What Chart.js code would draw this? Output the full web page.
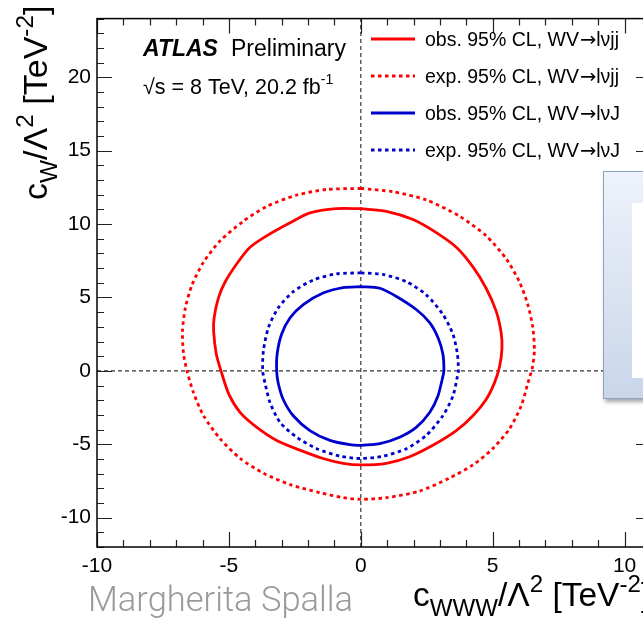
<!DOCTYPE html>
<html>
<head>
<meta charset="utf-8">
<script src="https://cdn.jsdelivr.net/npm/chart.js@4"></script>
<style>
  html, body { margin:0; padding:0; overflow:hidden; background:#fff; width:643px; height:623px; }
  #wrap { position:absolute; left:0; top:0; width:660px; height:623px; }
  #box { position:absolute; left:603px; top:171px; width:80px; height:226px;
         background:linear-gradient(#eef2fa, #c9d6ea); border:1.5px solid #8fa2c6;
         box-shadow:2px 3px 4px rgba(0,0,0,0.35); }
  #box-inner { position:absolute; left:28px; top:31px; width:60px; height:175px; background:#fff; }
</style>
</head>
<body>
<div id="wrap"><canvas id="chart"></canvas></div>
<div id="box"><div id="box-inner"></div></div>
<script>
// axis ranges and labelled ticks
const xRange = [-10, 11];
const yRange = [-12, 24];
const xTickVals = [-10, -5, 0, 5, 10];
const yTickVals = [-10, -5, 0, 5, 10, 15, 20];

// contours (c_WWW, c_W) in TeV^-2
const obsJjX = [0,-0.92,-1.93,-2.68,-3.57,-4.2,-4.7,-5.14,-5.4,-5.56,-5.58,-5.48,-5.3,-5.0,-4.57,-3.94,-3.19,-2.31,-1.43,-0.67,0,0.97,1.85,2.73,3.62,4.25,4.75,5.07,5.26,5.35,5.32,5.13,4.75,4.25,3.62,2.86,1.98,0.97,0];
const obsJjY = [11.05,11.05,10.76,10.09,9.2,8.42,7.3,6.07,4.96,3.62,2.73,1.17,0,-1.6,-2.84,-3.85,-4.74,-5.4,-5.97,-6.3,-6.41,-6.3,-5.85,-5.07,-4.07,-3.06,-1.95,-0.8,0.3,1.5,2.6,4.07,5.63,7.08,8.42,9.42,10.31,10.87,11.05];

const expJjX = [0,-1.3,-2.43,-3.57,-4.45,-5.33,-5.96,-6.4,-6.65,-6.76,-6.72,-6.59,-6.34,-5.96,-5.33,-4.57,-3.69,-2.68,-1.55,-0.67,0,0.97,2.23,3.36,4.25,5.0,5.63,6.08,6.33,6.5,6.58,6.52,6.33,6.01,5.51,4.75,3.74,2.48,1.22,0];
const expJjY = [12.43,12.36,11.98,11.2,10.2,8.86,7.41,5.85,4.29,2.73,1.17,0,-1.5,-3.06,-4.63,-5.97,-6.97,-7.75,-8.3,-8.64,-8.75,-8.64,-8.19,-7.3,-6.41,-5.3,-3.96,-2.39,-0.84,0.2,1.39,2.96,4.52,6.07,7.64,9.2,10.54,11.65,12.2,12.43];

const obsJX = [0,-0.67,-1.43,-2.18,-2.68,-3.0,-3.17,-3.19,-3.13,-2.94,-2.56,-1.93,-1.17,-0.42,0,0.72,1.47,2.1,2.61,2.92,3.11,3.15,3.11,2.92,2.61,2.1,1.35,0.72,0];
const obsJY = [5.74,5.67,5.3,4.52,3.62,2.51,1.17,0,-0.84,-1.95,-3.06,-4.07,-4.74,-5.03,-5.07,-4.96,-4.52,-3.85,-2.84,-1.73,-0.39,0,1.17,2.29,3.29,4.18,5.07,5.63,5.74];

const expJX = [0,-0.92,-1.8,-2.56,-3.13,-3.5,-3.69,-3.72,-3.63,-3.44,-3.06,-2.43,-1.67,-0.79,0,0.84,1.73,2.48,3.11,3.49,3.66,3.7,3.66,3.49,3.11,2.48,1.73,0.84,0];
const expJY = [6.68,6.61,6.19,5.4,4.29,2.96,1.39,0,-0.84,-2.17,-3.51,-4.52,-5.3,-5.81,-5.97,-5.81,-5.3,-4.4,-3.06,-1.73,-0.39,0,1.17,2.51,3.85,5.18,6.07,6.57,6.68];

const legendPre = ['obs. 95% CL, WV', 'exp. 95% CL, WV', 'obs. 95% CL, WV', 'exp. 95% CL, WV'];
const legendPost = ['l\u03bdjj', 'l\u03bdjj', 'l\u03bdJ', 'l\u03bdJ'];
const RED = '#ff0000', BLUE = '#0000cc';
const DOT = [3.5, 3.5];
const FONT = '"Liberation Sans", Arial, sans-serif';

const pts = (xs, ys) => xs.map((x, i) => ({ x, y: ys[i] }));
const contour = (label, xs, ys, color, dash) => ({
  label, data: pts(xs, ys), showLine: true, borderColor: color, borderWidth: 2.8,
  borderDash: dash, pointRadius: 0, tension: 0.25, fill: false
});
const zeroLine = data => ({ data, showLine: true, borderColor: '#333', borderWidth: 1.2, borderDash: [4, 3], pointRadius: 0 });

// inward ticks, frame, texts
const decor = {
  id: 'decor',
  afterDraw(c) {
    const g = c.ctx, a = c.chartArea, sx = c.scales.x, sy = c.scales.y;
    g.save();
    g.strokeStyle = '#222'; g.lineWidth = 1.2;
    for (let v = Math.ceil(xRange[0]); v <= xRange[1]; v++) {
      const p = Math.round(sx.getPixelForValue(v)) + 0.5, L = v % 5 === 0 ? 15 : 7;
      g.beginPath(); g.moveTo(p, a.bottom); g.lineTo(p, a.bottom - L); g.moveTo(p, a.top); g.lineTo(p, a.top + L); g.stroke();
    }
    for (let v = Math.ceil(yRange[0]); v <= yRange[1]; v++) {
      const p = Math.round(sy.getPixelForValue(v)) + 0.5, L = v % 5 === 0 ? 15 : 7;
      g.beginPath(); g.moveTo(a.left, p); g.lineTo(a.left + L, p); g.moveTo(a.right, p); g.lineTo(a.right - L, p); g.stroke();
    }
    g.strokeStyle = '#000'; g.lineWidth = 1.5;
    g.strokeRect(a.left, a.top, a.right - a.left, a.bottom - a.top);

    // ATLAS label
    g.fillStyle = '#000'; g.textBaseline = 'alphabetic'; g.textAlign = 'left';
    g.font = 'italic bold 23px ' + FONT; g.fillText('ATLAS', 143, 56);
    g.font = '23px ' + FONT; g.fillText('Preliminary', 231, 56);
    g.font = '21.5px ' + FONT;
    let x = 143; const t1 = '\u221As = 8 TeV, 20.2 fb';
    g.fillText(t1, x, 94); x += g.measureText(t1).width;
    g.font = '14px ' + FONT; g.fillText('-1', x, 84);

    // legend
    const ly = [39, 76, 113, 150];
    const lc = [RED, RED, BLUE, BLUE];
    ly.forEach((y, i) => {
      g.strokeStyle = lc[i]; g.lineWidth = 2.8; g.setLineDash(i % 2 ? DOT : []);
      g.beginPath(); g.moveTo(371, y); g.lineTo(415, y); g.stroke(); g.setLineDash([]);
      g.fillStyle = '#000'; g.font = '19.5px ' + FONT;
      let lx = 425; g.fillText(legendPre[i], lx, y + 7); lx += g.measureText(legendPre[i]).width + 1;
      g.font = '19.5px "DejaVu Sans", sans-serif'; g.fillText('\u2192', lx, y + 7); lx += g.measureText('\u2192').width;
      g.font = '19.5px ' + FONT; g.fillText(legendPost[i], lx, y + 7);
    });

    // axis titles
    const xt = [['c', ''], ['WWW', 'sub'], ['/', ''], ['\u039b', ''], ['2', 'sup'], [' [TeV', ''], ['-2', 'sup'], [']', '']];
    const yt = [['c', ''], ['W', 'sub'], ['/', ''], ['\u039b', ''], ['2', 'sup'], [' [TeV', ''], ['-2', 'sup'], [']', '']];
    const rich = (parts, size) => {
      let px = 0;
      parts.forEach(([s, k]) => {
        const fs = k ? size * 0.72 : size;
        const dy = k === 'sub' ? size * 0.3 : k === 'sup' ? -size * 0.42 : 0;
        g.font = fs + 'px ' + FONT; g.fillText(s, px, dy); px += g.measureText(s).width;
      });
    };
    g.fillStyle = '#000';
    g.save(); g.translate(413, 606); rich(xt, 33.5); g.restore();
    g.save(); g.translate(47, 200); g.rotate(-Math.PI / 2); rich(yt, 34); g.restore();

    g.fillStyle = '#9a9a9a'; g.font = '300 34.5px Roboto, "Open Sans", sans-serif';
    g.fillText('Margherita Spalla', 88, 611);
    g.restore();
  }
};

new Chart(document.getElementById('chart'), {
  type: 'scatter',
  data: {
    datasets: [
      contour('obs lvjj', obsJjX, obsJjY, RED, []),
      contour('exp lvjj', expJjX, expJjY, RED, DOT),
      contour('obs lvJ', obsJX, obsJY, BLUE, []),
      contour('exp lvJ', expJX, expJY, BLUE, DOT),
      zeroLine([{ x: 0, y: yRange[0] }, { x: 0, y: yRange[1] }]),
      zeroLine([{ x: xRange[0], y: 0 }, { x: xRange[1], y: 0 }])
    ]
  },
  options: {
    responsive: true, maintainAspectRatio: false, animation: false,
    layout: { padding: { left: 0, top: 7, right: 9, bottom: 0 } },
    plugins: { legend: { display: false }, tooltip: { enabled: false } },
    scales: {
      x: {
        type: 'linear', min: xRange[0], max: xRange[1],
        grid: { display: false, drawTicks: false }, border: { display: false },
        afterBuildTicks: s => { s.ticks = xTickVals.map(v => ({ value: v })); },
        afterFit: s => { s.height = 76; },
        ticks: { autoSkip: false, maxRotation: 0, padding: 7, color: '#000', font: { family: FONT, size: 21 } }
      },
      y: {
        type: 'linear', min: yRange[0], max: yRange[1],
        grid: { display: false, drawTicks: false }, border: { display: false },
        afterBuildTicks: s => { s.ticks = yTickVals.map(v => ({ value: v })); },
        afterFit: s => { s.width = 97; },
        ticks: { autoSkip: false, padding: 6, color: '#000', font: { family: FONT, size: 21 } }
      }
    }
  },
  plugins: [decor]
});
</script>
</body>
</html>
